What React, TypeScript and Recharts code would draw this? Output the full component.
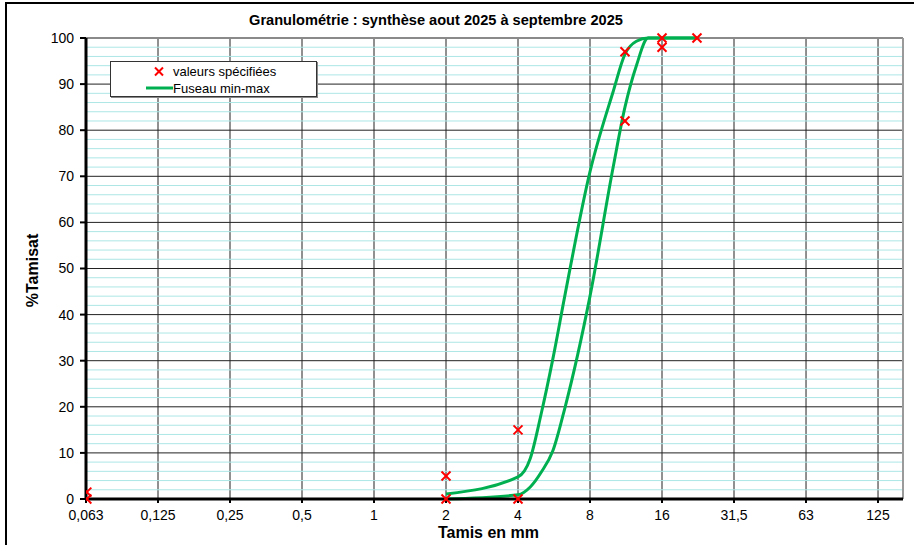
import React from "react";
import {
  ComposedChart,
  Line,
  Scatter,
  XAxis,
  YAxis,
  CartesianGrid,
  ReferenceLine,
  Label,
} from "recharts";

// sieve axis (log2 spacing, labels as printed)
const sieveTicks = [0.0625, 0.125, 0.25, 0.5, 1, 2, 4, 8, 16, 32, 64, 128];
const sieveLabels = ["0,063", "0,125", "0,25", "0,5", "1", "2", "4", "8", "16", "31,5", "63", "125"];
const xMax = 162.8;

const pctTicks = [0, 10, 20, 30, 40, 50, 60, 70, 80, 90, 100];
const minorLines = Array.from({ length: 49 }, (_, i) => (i + 1) * 2).filter((v) => v % 10 !== 0);

// fuseau min-max
const fuseauSieves = [2, 4, 4.5, 5, 5.6, 6.3, 8, 10, 11.2, 12.5, 14, 16, 22.4];
const fuseauMax = [1.1, 4.8, 8.8, 18.5, 30.5, 44.5, 71, 88.4, 96.5, 99.3, 100, 100, 100];
const fuseauMin = [0, 0.9, 2.6, 5.8, 10.5, 20, 44, 72, 85, 94, 100, 100, 100];

// valeurs spécifiées
const specSieves = [0.063, 0.063, 2, 2, 4, 4, 11.2, 11.2, 16, 16, 22.4];
const specValues = [0, 1.5, 0, 5, 0, 15, 97, 82, 100, 98, 100];

const maxData = fuseauSieves.map((mm, i) => ({ mm, pct: fuseauMax[i] }));
const minData = fuseauSieves.map((mm, i) => ({ mm, pct: fuseauMin[i] }));
const specData = specSieves.map((mm, i) => ({ mm, pct: specValues[i] }));

const GREEN = "#00b050";
const FONT = "'Liberation Sans', Arial, sans-serif";

function XMark(props: any) {
  const { cx, cy } = props;
  if (cx == null || cy == null) return null;
  const r = 4.5;
  return (
    <g stroke="#ff0000" strokeWidth={2}>
      <line x1={cx - r} y1={cy - r} x2={cx + r} y2={cy + r} />
      <line x1={cx - r} y1={cy + r} x2={cx + r} y2={cy - r} />
    </g>
  );
}

function LegendBox() {
  return (
    <div
      style={{
        position: "absolute",
        left: 110,
        top: 61,
        width: 205,
        height: 34,
        border: "1px solid #333",
        background: "#fff",
        fontFamily: FONT,
        fontSize: 13,
        color: "#000",
        boxShadow: "1px 1px 0 #888",
      }}
    >
      <svg width={205} height={34} style={{ position: "absolute", left: 0, top: 0 }}>
        <g stroke="#ff0000" strokeWidth={2}>
          <line x1={44} y1={5.5} x2={52} y2={13.5} />
          <line x1={44} y1={13.5} x2={52} y2={5.5} />
        </g>
        <line x1={35} y1={26} x2={62} y2={26} stroke={GREEN} strokeWidth={3} />
        <text x={62} y={14} fontSize={13} fontFamily={FONT}>valeurs spécifiées</text>
        <text x={62} y={30.5} fontSize={13} fontFamily={FONT}>Fuseau min-max</text>
      </svg>
    </div>
  );
}

export default function App() {
  return (
    <div
      style={{
        position: "absolute",
        left: 0,
        top: 0,
        width: 914,
        height: 545,
        overflow: "hidden",
        background: "#fff",
      }}
    >
      <div
        style={{
          position: "absolute",
          left: 5,
          top: 2,
          width: 1200,
          height: 1200,
          borderTop: "2px solid #000",
          borderLeft: "2px solid #000",
        }}
      />
      <div
        style={{
          position: "absolute",
          left: 0,
          top: 12,
          width: 872,
          textAlign: "center",
          fontFamily: FONT,
          fontWeight: "bold",
          fontSize: 14.6,
          lineHeight: "16px",
          color: "#000",
        }}
      >
        Granulométrie : synthèse aout 2025 à septembre 2025
      </div>
      <div style={{ position: "absolute", left: 0, top: 0 }}>
        <ComposedChart
          width={914}
          height={545}
          margin={{ top: 38, right: 11, left: 0, bottom: 0 }}
        >
          <CartesianGrid stroke="#222" strokeWidth={1} />
          {minorLines.map((v) => (
            <ReferenceLine key={"m" + v} y={v} stroke="#ade6e6" strokeWidth={1} />
          ))}
          <ReferenceLine y={100} stroke="#8a8a8a" strokeWidth={2} />
          <ReferenceLine x={xMax} stroke="#9a9a9a" strokeWidth={2} />
          <XAxis
            type="number"
            dataKey="mm"
            scale="log"
            domain={[0.0625, xMax]}
            allowDataOverflow
            ticks={sieveTicks}
            interval={0}
            tickFormatter={(v: number) => sieveLabels[sieveTicks.indexOf(v)] ?? ""}
            height={46}
            tickSize={4}
            tickMargin={7}
            axisLine={{ stroke: "#000", strokeWidth: 3 }}
            tickLine={{ stroke: "#000", strokeWidth: 2 }}
            tick={{ fill: "#000", fontSize: 14, fontFamily: FONT }}
          >
            <Label
              content={(p: any) => {
                const vb = p.viewBox || {};
                return (
                  <text
                    x={vb.x + vb.width / 2 - 6}
                    y={vb.y + 39}
                    textAnchor="middle"
                    fontFamily={FONT}
                    fontWeight="bold"
                    fontSize={16}
                    fill="#000"
                  >
                    Tamis en mm
                  </text>
                );
              }}
            />
          </XAxis>
          <YAxis
            type="number"
            dataKey="pct"
            domain={[0, 100]}
            ticks={pctTicks}
            interval={0}
            width={86}
            tickSize={6}
            tickMargin={6}
            axisLine={{ stroke: "#000", strokeWidth: 3 }}
            tickLine={{ stroke: "#000", strokeWidth: 2 }}
            tick={{ fill: "#000", fontSize: 14, fontFamily: FONT }}
          >
            <Label
              content={(p: any) => {
                const vb = p.viewBox || {};
                const cx = vb.x + 32;
                const cy = vb.y + vb.height / 2 + 2;
                return (
                  <text
                    x={cx}
                    y={cy}
                    transform={`rotate(-90 ${cx} ${cy})`}
                    textAnchor="middle"
                    dominantBaseline="central"
                    fontFamily={FONT}
                    fontWeight="bold"
                    fontSize={16}
                    fill="#000"
                  >
                    %Tamisat
                  </text>
                );
              }}
            />
          </YAxis>
          <Line
            data={maxData}
            dataKey="pct"
            type="monotone"
            stroke={GREEN}
            strokeWidth={3}
            dot={false}
            activeDot={false}
            isAnimationActive={false}
          />
          <Line
            data={minData}
            dataKey="pct"
            type="monotone"
            stroke={GREEN}
            strokeWidth={3}
            dot={false}
            activeDot={false}
            isAnimationActive={false}
          />
          <Scatter
            data={specData}
            dataKey="pct"
            shape={XMark}
            isAnimationActive={false}
          />
        </ComposedChart>
      </div>
      <LegendBox />
    </div>
  );
}
